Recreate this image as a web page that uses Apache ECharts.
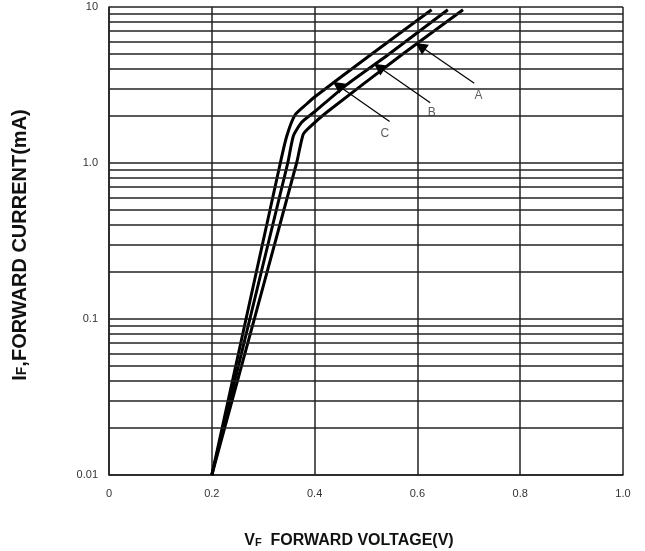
<!DOCTYPE html>
<html>
<head>
<meta charset="utf-8">
<script src="https://cdn.jsdelivr.net/npm/echarts@6/dist/echarts.min.js"></script>
<style>
html,body{margin:0;padding:0;background:#fff;}
#chart{width:645px;height:551px;}
</style>
</head>
<body>
<div id="chart"></div>
<script>
// Tick labels
const xTickLabels = ['0', '0.2', '0.4', '0.6', '0.8', '1.0'];
const yTickLabels = ['0.01', '0.1', '1.0', '10'];
// Minor log grid lines (2..9 in each decade)
const minorGridValues = [0.02,0.03,0.04,0.05,0.06,0.07,0.08,0.09,
                         0.2,0.3,0.4,0.5,0.6,0.7,0.8,0.9,
                         2,3,4,5,6,7,8,9];
// Curves [VF (V), IF (mA)]
const curveA = [[0.2,0.01],[0.365,1.0],[0.3777,1.525],[0.3905,1.70],[0.4248,2.13],[0.5696,4.94],[0.6888,9.6]];
const curveB = [[0.2,0.01],[0.3478,1.0],[0.3587,1.49],[0.3745,1.82],[0.400,2.13],[0.4621,3.17],[0.5430,4.94],[0.6592,9.6]];
const curveC = [[0.2,0.01],[0.3333,1.0],[0.3459,1.49],[0.3619,2.03],[0.384,2.38],[0.400,2.65],[0.5092,4.94],[0.6276,9.6]];
// Annotation arrows and letters
const labelNames = ['A', 'B', 'C'];
const arrowTips  = [[0.606,5.6],[0.525,4.12],[0.445,3.15]];
const arrowTails = [[0.7106,3.24],[0.625,2.43],[0.5459,1.845]];
const labelPos   = [[0.719,2.72],[0.628,2.1],[0.5366,1.54]];

const FONT = 'Liberation Sans, Arial, sans-serif';
const chart = echarts.init(document.getElementById('chart'), null, {renderer:'canvas'});
const gridLine = {color:'#222', width:1.5};

const option = {
  backgroundColor:'#fff',
  animation:false,
  grid:{left:109, right:22, top:7, bottom:76, containLabel:false, outerBoundsMode:'none'},
  xAxis:{
    type:'value', min:0, max:1, interval:0.2,
    axisLine:{show:true, lineStyle:gridLine},
    axisTick:{show:false},
    splitLine:{show:true, lineStyle:gridLine},
    axisLabel:{margin:13, color:'#333', fontSize:11, fontFamily:FONT,
      formatter:v => xTickLabels[Math.round(v/0.2)]},
    name:'{v|V}{f|F}  FORWARD VOLTAGE(V)',
    nameLocation:'middle', nameGap:58,
    nameTextStyle:{fontSize:16, fontWeight:'bold', color:'#111', fontFamily:FONT, padding:[0,34,0,0],
      rich:{v:{fontSize:16, fontWeight:'bold', color:'#111', fontFamily:FONT},
            f:{fontSize:11, fontWeight:'bold', color:'#111', fontFamily:FONT, verticalAlign:'bottom', padding:[0,0,1,0]}}}
  },
  yAxis:{
    type:'log', logBase:10, min:0.01, max:10,
    axisLine:{show:true, lineStyle:gridLine},
    axisTick:{show:false},
    splitLine:{show:true, lineStyle:gridLine},
    axisLabel:{margin:11, color:'#333', fontSize:11, fontFamily:FONT,
      formatter:v => yTickLabels[Math.round(Math.log10(v))+2]},
    name:'{i|I}{f|F}{t|,FORWARD CURRENT(mA)}',
    nameLocation:'middle', nameGap:79, nameRotate:90,
    nameTextStyle:{fontSize:20, fontWeight:'bold', color:'#111', fontFamily:FONT, padding:[0,8,0,0],
      rich:{i:{fontSize:20, fontWeight:'bold', color:'#111', fontFamily:FONT},
            t:{fontSize:20, fontWeight:'bold', color:'#111', fontFamily:FONT},
            f:{fontSize:14, fontWeight:'bold', color:'#111', fontFamily:FONT, verticalAlign:'bottom', padding:[0,0,1,0]}}}
  },
  series:[
    {
      name:'grid', type:'line', data:[], symbol:'none', silent:true, z:1,
      markLine:{silent:true, symbol:'none', label:{show:false},
        lineStyle:{color:'#222', width:1.5, type:'solid'},
        emphasis:{disabled:true},
        data:minorGridValues.map(v => ({yAxis:v}))}
    },
    {name:'A', type:'line', data:curveA, symbol:'none', smooth:0.2, z:3,
      lineStyle:{color:'#000', width:3}},
    {name:'B', type:'line', data:curveB, symbol:'none', smooth:0.2, z:3,
      lineStyle:{color:'#000', width:3}},
    {name:'C', type:'line', data:curveC, symbol:'none', smooth:0.2, z:3,
      lineStyle:{color:'#000', width:3}},
    {
      name:'arrows', type:'line', data:[], symbol:'none', silent:true, z:4,
      markLine:{silent:true, symbol:['none','triangle'], symbolSize:12, label:{show:false},
        lineStyle:{color:'#000', width:1.2, type:'solid'},
        itemStyle:{color:'#000'},
        emphasis:{disabled:true},
        data:arrowTips.map((t,i) => [{coord:arrowTails[i]},{coord:t}])}
    },
    {
      name:'letters', type:'scatter', symbolSize:1, silent:true, z:5,
      itemStyle:{color:'rgba(0,0,0,0)'},
      data:labelPos.map((p,i) => ({name:labelNames[i], value:p})),
      label:{show:true, position:'inside', formatter:'{b}', color:'#333', fontSize:12, fontFamily:FONT}
    }
  ]
};
chart.setOption(option);
</script>
</body>
</html>
